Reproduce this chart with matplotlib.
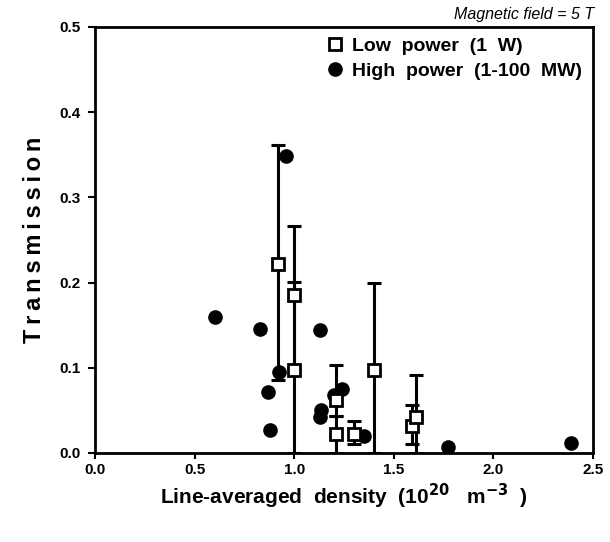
import matplotlib
matplotlib.use("Agg")
import matplotlib.pyplot as plt
import numpy as np

plt.rcParams['font.family'] = ['Liberation Sans', 'DejaVu Sans']

# Low power (1 W) data with asymmetric error bars
low_x = [0.92, 1.00, 1.00, 1.21, 1.21, 1.30, 1.40, 1.59, 1.61]
low_y = [0.222, 0.185, 0.097, 0.062, 0.022, 0.022, 0.097, 0.032, 0.042]
low_err_lo = [0.136, 0.085, 0.097, 0.019, 0.022, 0.011, 0.097, 0.021, 0.042]
low_err_hi = [0.139, 0.081, 0.104, 0.041, 0.021, 0.016, 0.102, 0.024, 0.050]

# High power (1-100 MW) data
high_x = [0.60, 0.83, 0.96, 0.925, 0.87, 0.88, 1.13, 1.20, 1.24, 1.135, 1.13, 1.35, 1.77, 2.39]
high_y = [0.160, 0.146, 0.349, 0.095, 0.072, 0.027, 0.144, 0.068, 0.075, 0.050, 0.042, 0.020, 0.007, 0.012]

xticks = [0.0, 0.5, 1.0, 1.5, 2.0, 2.5]
yticks = [0.0, 0.1, 0.2, 0.3, 0.4, 0.5]

fig = plt.figure(figsize=(6.10, 5.42), dpi=100)
ax = fig.add_axes([95/610, 1-453/542, (593-95)/610, (453-27)/542])

ax.errorbar(low_x, low_y, yerr=[low_err_lo, low_err_hi], fmt='none',
            ecolor='black', elinewidth=2.2, capsize=5, capthick=2.2, zorder=2)
ax.plot(high_x, high_y, 'o', color='black', markersize=9.5, zorder=3,
        label='High  power  (1-100  MW)')
ax.plot(low_x, low_y, 's', markerfacecolor='white', markeredgecolor='black',
        markeredgewidth=2, markersize=8.5, zorder=4, label='Low  power  (1  W)')

ax.set_xlim(0, 2.5)
ax.set_ylim(0, 0.5)
ax.set_xticks(xticks)
ax.set_yticks(yticks)
ax.set_xticklabels([f"{t:.1f}" for t in xticks], fontweight='bold', fontsize=11)
ax.set_yticklabels([f"{t:.1f}" for t in yticks], fontweight='bold', fontsize=11)
ax.tick_params(axis='x', direction='out', length=4, width=1.5, pad=3)
ax.tick_params(axis='y', direction='out', length=5, width=1.5, pad=5)
for s in ax.spines.values():
    s.set_linewidth(2)

ax.set_ylabel('\u2009'.join('Transmission'), fontweight='bold', fontsize=17, labelpad=10)
ax.set_xlabel(r'Line-averaged  density  (10$^{\mathbf{20}}$   m$^{\mathbf{-3}}$  )',
              fontweight='bold', fontsize=15, labelpad=4)

handles, labels = ax.get_legend_handles_labels()
leg = ax.legend(handles[::-1], labels[::-1], loc='upper right', frameon=False,
                prop={'weight': 'bold', 'size': 14}, handletextpad=0.4,
                borderaxespad=0.25, borderpad=0.3, labelspacing=0.35,
                handlelength=1.0)

fig.text(594/610, 1-14/542, 'Magnetic field = 5 T', ha='right', va='center',
         fontstyle='italic', fontsize=11.5)

fig.savefig('out.png', dpi=100)
